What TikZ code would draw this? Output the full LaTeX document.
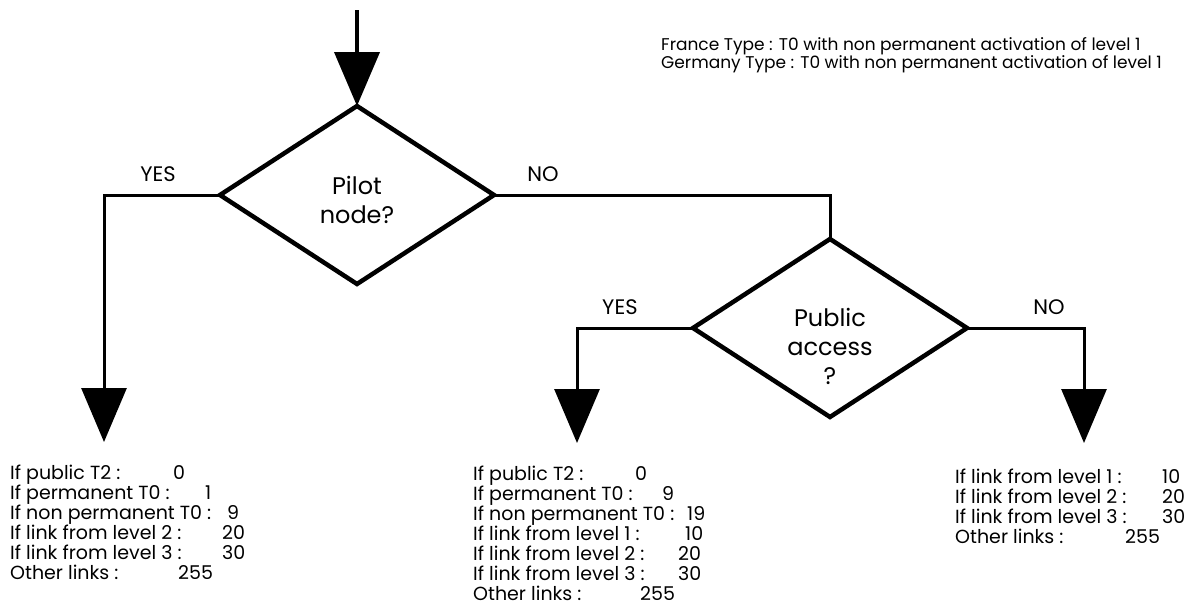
\documentclass[tikz,border=0pt]{standalone}
\usepackage{fontspec}
\setmainfont{Poppins}
\usetikzlibrary{shapes.geometric,arrows.meta,positioning}

% one line of a rule list: label, then the value at a fixed offset
\newcommand{\ruleline}[3]{\makebox[#1pt][l]{#2}#3}

\begin{document}
\begin{tikzpicture}[
    x=1pt, y=-1pt,
    decision/.style={diamond, draw, line width=4.5pt, minimum width=274pt, minimum height=178pt, inner sep=0pt, outer sep=0pt},
    qtext/.style={align=center, inner sep=0pt, font=\fontsize{24}{29}\selectfont},
    flow/.style={draw, line width=3pt, -{Triangle[width=45pt,length=54pt]}},
    answer/.style={font=\fontsize{21}{24}\selectfont, inner sep=0pt, above=12pt},
    rules/.style={anchor=north west, inner sep=0pt, align=left, font=\fontsize{19}{20}\selectfont},
    note/.style={anchor=north west, inner sep=0pt, align=left, font=\fontsize{17}{18}\selectfont}
]
\useasboundingbox[fill=white] (0,0) rectangle (1191,605);

% Decisions
\node[decision, label={[qtext, yshift=-5pt]center:Pilot\\node?}] (pilot) at (357,195) {};
\node[decision, label={[qtext, yshift=-18pt]center:Public\\access\\?}] (access) at (830,328) {};

% Entry and arrow ends
\coordinate (entry) at (357,10);
\coordinate (tip_yes) at (104,442);
\coordinate (tip_pub) at (577,443);
\coordinate (tip_nopub) at (1084,443);

% Outcome lists
\node[rules] (pilot_list) at (10,465) {%
\ruleline{163}{If public T2 :}{0}\\
\ruleline{195}{If permanent T0 :}{1}\\
\ruleline{217}{If non permanent T0 :}{9}\\
\ruleline{212}{If link from level 2 :}{20}\\
\ruleline{212}{If link from level 3 :}{30}\\
\ruleline{168}{Other links :}{255}};
\node[rules] (pub_list) at (473,466) {%
\ruleline{162}{If public T2 :}{0}\\
\ruleline{189}{If permanent T0 :}{9}\\
\ruleline{214}{If non permanent T0 :}{19}\\
\ruleline{212}{If link from level 1 :}{10}\\
\ruleline{205}{If link from level 2 :}{20}\\
\ruleline{205}{If link from level 3 :}{30}\\
\ruleline{167}{Other links :}{255}};
\node[rules] (nopub_list) at (955,469) {%
\ruleline{207}{If link from level 1 :}{10}\\
\ruleline{207}{If link from level 2 :}{20}\\
\ruleline{207}{If link from level 3 :}{30}\\
\ruleline{170}{Other links :}{255}};

% Country types
\node[note] (types) at (661,37) {France Type : T0 with non permanent activation of level 1\\
Germany Type : T0 with non permanent activation of level 1};

% Connections
\draw[flow, line width=4pt] (entry) -- (pilot.north);
\draw[flow] (pilot.west) -| node[answer, pos=0.267]{YES} (tip_yes);
\draw[line width=3pt] (pilot.east) -| node[answer, pos=0.073]{NO} (access.north);
\draw[flow] (access.west) -| node[answer, pos=0.315]{YES} (tip_pub);
\draw[flow] (access.east) -| node[answer, pos=0.35]{NO} (tip_nopub);

\end{tikzpicture}
\end{document}
